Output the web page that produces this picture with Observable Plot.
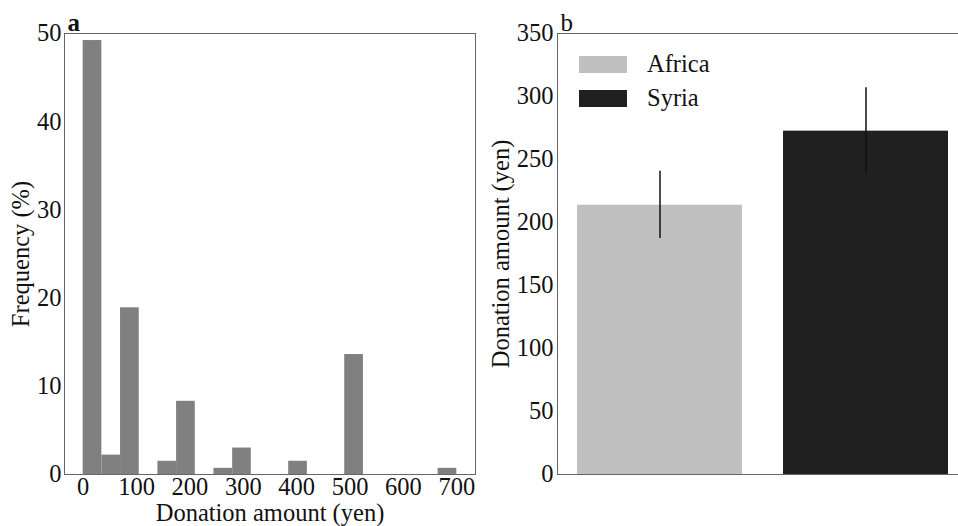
<!DOCTYPE html>
<html>
<head>
<meta charset="utf-8">
<script src="https://cdn.jsdelivr.net/npm/d3@7"></script>
<script src="https://cdn.jsdelivr.net/npm/@observablehq/plot@0.6"></script>
<style>
  html, body { margin: 0; padding: 0; width: 958px; height: 526px; overflow: hidden; background: #fff; }
  #wrap { position: relative; width: 958px; height: 526px; overflow: hidden; }
  .panel { position: absolute; top: 0; }
  .panel svg { max-width: none !important; }
  .legend { position: absolute; font-family: "Liberation Serif", serif; font-size: 24.5px; color: #111; }
  .legend .row { position: absolute; left: 0; white-space: nowrap; }
  .legend .sw { position: absolute; left: 0; width: 48px; height: 17px; }
  .legend .lab { position: absolute; left: 68px; line-height: 24px; }
</style>
</head>
<body>
<div id="wrap">
  <div id="left" class="panel" style="left:0px; width:480px;"></div>
  <div id="right" class="panel" style="left:480px; width:490px;"></div>
  <div id="legend" class="legend" style="left:579px; top:55px;"></div>
</div>
<script>
// ---- Panel a: histogram of donation amounts ----
const binLower = [0, 35, 70, 105, 140, 175, 210, 245, 280, 315, 350, 385, 420, 455, 490, 525, 560, 595, 630, 665];
const binUpper = [35, 70, 105, 140, 175, 210, 245, 280, 315, 350, 385, 420, 455, 490, 525, 560, 595, 630, 665, 700];
const binFreq  = [49.2, 2.2, 18.9, 0, 1.5, 8.3, 0, 0.7, 3.0, 0, 0, 1.5, 0, 0, 13.6, 0, 0, 0, 0, 0.7];
const histXTicks = [0, 100, 200, 300, 400, 500, 600, 700];
const histYTicks = [0, 10, 20, 30, 40, 50];

// ---- Panel b: mean donation by recipient ----
const regions  = ["Africa", "Syria"];
const meanDonation = [213.7, 272.5];
const errLow   = [187.3, 238.1];
const errHigh  = [240.7, 306.9];
const regionColors = ["#c0c0c0", "#202020"];
const barYTicks = [0, 50, 100, 150, 200, 250, 300, 350];

const FONT = "Liberation Serif, Times New Roman, serif";
const FS = 24.5;

const histData = binFreq.map((f, i) => ({x1: binLower[i], x2: binUpper[i], freq: f}));

const left = Plot.plot({
  width: 480,
  height: 526,
  marginLeft: 64,
  marginRight: 5,
  marginTop: 33,
  marginBottom: 52,
  style: {fontFamily: FONT, fontSize: FS + "px", color: "#111", background: "white", overflow: "visible"},
  x: {domain: [-35, 735], ticks: histXTicks, tickSize: 0, tickPadding: 3, label: null},
  y: {domain: [0, 50], ticks: histYTicks, tickSize: 0, tickPadding: 3, label: null},
  marks: [
    Plot.rectY(histData, {x1: "x1", x2: "x2", y: "freq", fill: "#808080", insetLeft: 0, insetRight: 0}),
    Plot.frame({stroke: "#666", strokeWidth: 1}),
    Plot.text(["Donation amount (yen)"], {frameAnchor: "bottom", textAnchor: "middle", dy: 39, lineAnchor: "middle", fontSize: FS, fill: "#111"}),
    Plot.text(["Frequency (%)"], {frameAnchor: "left", textAnchor: "middle", rotate: -90, dx: -43, lineAnchor: "middle", fontSize: FS, fill: "#111"}),
    Plot.text(["a"], {frameAnchor: "top-left", textAnchor: "start", lineAnchor: "middle", dx: 3, dy: -11, fontSize: 25, fontWeight: "bold", fill: "#111"})
  ]
});
document.getElementById("left").appendChild(left);

const barData = regions.map((r, i) => ({region: r, mean: meanDonation[i], lo: errLow[i], hi: errHigh[i]}));

const right = Plot.plot({
  width: 490,
  height: 526,
  marginLeft: 77,
  marginRight: 2.4,
  marginTop: 33,
  marginBottom: 52,
  style: {fontFamily: FONT, fontSize: FS + "px", color: "#111", background: "white", overflow: "visible"},
  x: {type: "band", domain: regions, paddingInner: 0.2, paddingOuter: 0.093, axis: null, label: null},
  y: {domain: [0, 350], ticks: barYTicks, tickSize: 0, tickPadding: 4, label: null},
  color: {domain: regions, range: regionColors},
  marks: [
    Plot.barY(barData, {x: "region", y: "mean", fill: "region"}),
    Plot.ruleX(barData, {x: "region", y1: "lo", y2: "hi", stroke: "#111", strokeWidth: 1.5}),
    Plot.frame({stroke: "#666", strokeWidth: 1}),
    Plot.text(["Donation amount (yen)"], {frameAnchor: "left", textAnchor: "middle", rotate: -90, dx: -56, lineAnchor: "middle", fontSize: FS, fill: "#111"}),
    Plot.text(["b"], {frameAnchor: "top-left", textAnchor: "start", lineAnchor: "middle", dx: 3, dy: -11, fontSize: 25, fill: "#111"})
  ]
});
document.getElementById("right").appendChild(right);

// Legend overlay (inside panel b, upper left)
const legend = document.getElementById("legend");
regions.forEach((r, i) => {
  const row = document.createElement("div");
  row.className = "row";
  row.style.top = (i * 34) + "px";
  const sw = document.createElement("div");
  sw.className = "sw";
  sw.style.background = regionColors[i];
  sw.style.top = "1px";
  const lab = document.createElement("div");
  lab.className = "lab";
  lab.style.top = "-3px";
  lab.textContent = r;
  row.appendChild(sw);
  row.appendChild(lab);
  legend.appendChild(row);
});
</script>
</body>
</html>
